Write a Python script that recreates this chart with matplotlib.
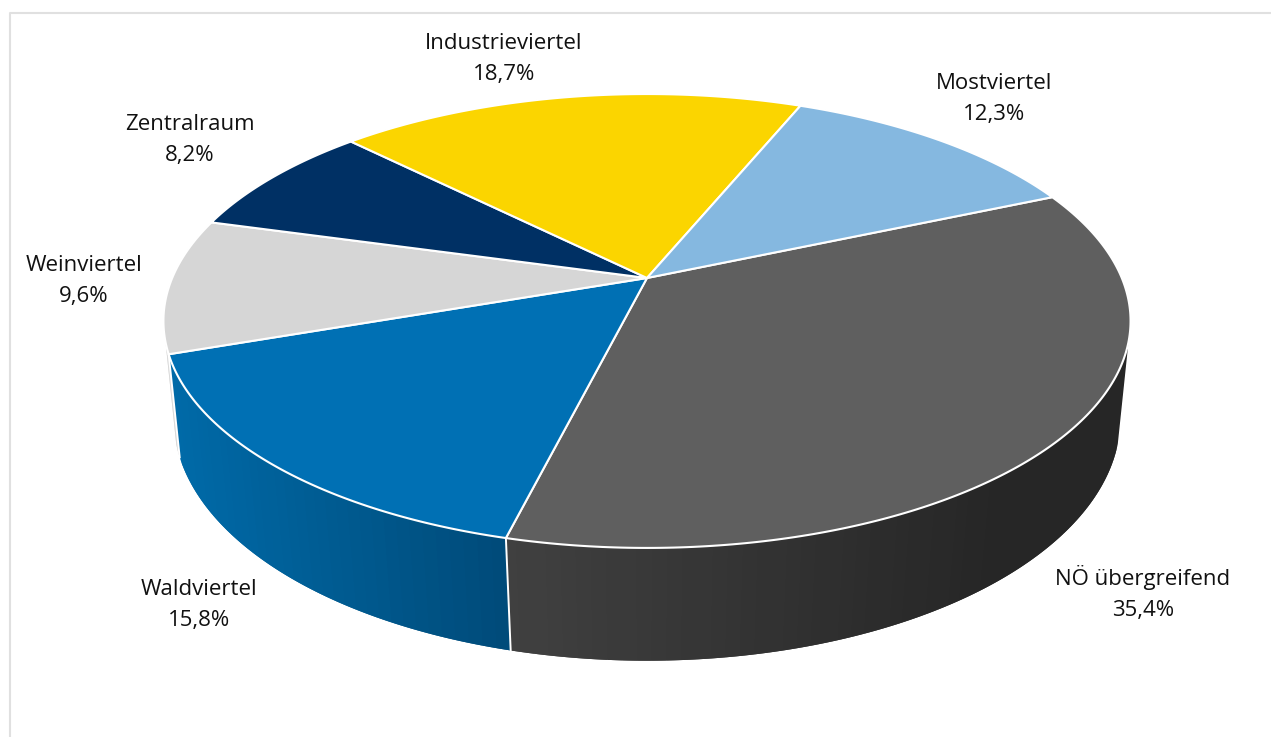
import numpy as np
import matplotlib
matplotlib.use("Agg")
import matplotlib.pyplot as plt
from matplotlib.lines import Line2D

# Data (clockwise from the first slice)
categories = ["NÖ übergreifend", "Waldviertel", "Weinviertel", "Zentralraum", "Industrieviertel", "Mostviertel"]
shares = [35.4, 15.8, 9.6, 8.2, 18.7, 12.3]

# Style
top_colors = ["#5f5f5f", "#0070b4", "#d6d6d6", "#003064", "#fbd500", "#85b8e0"]
rim_left = ["#404040", "#006aa8", "#dcdcdc", "#003064", "#fbd500", "#85b8e0"]
rim_right = ["#262626", "#004a78", "#c8c8c8", "#003064", "#fbd500", "#85b8e0"]
label_xy = [(1143, 585), (199, 595), (84, 271), (190, 130), (504, 49), (994, 89)]
START_ANGLE = 66.6
LINE_GAP = 31
WALL_FROM, WALL_TO = 106.0, 254.0   # part of the circle where the side wall shows

# Perspective mapping of the pie's disc: (cx, cy, A, B, k)
TOP = (647.0, 278.0, 474.8, 218.8, 0.1894)
BOTTOM = (647.0, 376.0, 466.0, 234.6, 0.176)


def project(theta_deg, r, plane):
    cx, cy, a, b, k = plane
    t = np.radians(theta_deg)
    u, v = r * np.sin(t), r * np.cos(t)
    d = 1 + k * v
    return cx + a * u / d, cy - b * v / d


def hex_rgb(c):
    return np.array(matplotlib.colors.to_rgb(c))


plt.rcParams["font.family"] = ["Open Sans", "DejaVu Sans"]
fig = plt.figure(figsize=(12.71, 7.37), dpi=100, facecolor="white")
ax = fig.add_axes([0, 0, 1, 1])
ax.set_xlim(0, 1271)
ax.set_ylim(737, 0)
ax.axis("off")

# Chart frame (left and top edges are the visible ones)
ax.add_line(Line2D([10, 10, 1271], [737, 12.7, 12.7], color="#e0e0e0", lw=1.5, zorder=0))

edges = START_ANGLE + np.concatenate([[0], np.cumsum(shares)]) * 3.6 * 100 / sum(shares)


def draw_wall(i, lo, hi, ascending, xl, xr, zorder):
    """Paint one slice's side wall back to front in overlapping bands."""
    ts = np.arange(lo, hi, 1.5)
    ts = np.r_[ts, hi]
    pairs = list(zip(ts[:-1], ts[1:]))
    if not ascending:
        pairs = pairs[::-1]
    for t0, t1 in pairs:
        a, b = (t0, min(t1 + 1.5, hi)) if ascending else (max(t0 - 1.5, lo), t1)
        ang = np.linspace(a, b, 6)
        xt, yt = project(ang, 1, TOP)
        xb, yb = project(ang, 1, BOTTOM)
        xm = project((t0 + t1) / 2, 1, TOP)[0]
        f = np.clip((xm - xl) / (xr - xl), 0, 1)
        col = hex_rgb(rim_left[i]) * (1 - f) + hex_rgb(rim_right[i]) * f
        ax.fill(np.r_[xt, xb[::-1]], np.r_[yt, yb[::-1]], color=col, lw=0, zorder=zorder)


# Side walls: the rearmost first
draw_wall(2, edges[2], WALL_TO, False, 165, 180, 2.0)
draw_wall(1, edges[1], edges[2], False, 170, 510, 2.1)
draw_wall(0, WALL_FROM, edges[1], True, 510, 1000, 2.2)

# White seam where two side walls meet
for a in edges[1:3]:
    xt, yt = project(a, 1, TOP)
    xb, yb = project(a, 1, BOTTOM)
    ax.add_line(Line2D([xt, xb], [yt, yb], color="white", lw=1.4, zorder=3))

# Top face
for i, (a0, a1) in enumerate(zip(edges[:-1], edges[1:])):
    ts = np.linspace(a0, a1, 200)
    xs, ys = project(ts, 1, TOP)
    ax.fill(np.r_[TOP[0], xs], np.r_[TOP[1], ys], facecolor=top_colors[i],
            edgecolor="white", lw=1.5, joinstyle="round", zorder=4)

# Data labels
for name, val, (x, y) in zip(categories, shares, label_xy):
    ax.text(x, y, name, ha="center", va="baseline", fontsize=16, color="#111111", zorder=5)
    ax.text(x, y + LINE_GAP, f"{val:.1f}%".replace(".", ","), ha="center", va="baseline",
            fontsize=16, color="#111111", zorder=5)

fig.savefig("out.png", dpi=100, facecolor="white")
